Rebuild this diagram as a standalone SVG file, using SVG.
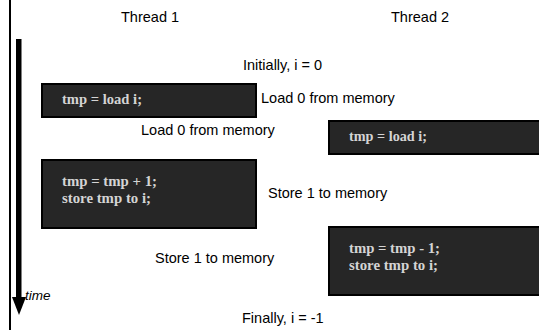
<svg xmlns="http://www.w3.org/2000/svg" width="539" height="330" viewBox="0 0 539 330">
<style>
.box{fill:#262626;stroke:#000;stroke-width:2}
.code{font-family:"Liberation Serif","Times New Roman",serif;font-weight:bold;font-size:14px;fill:#d4d4d4}
.lbl{font-family:"Liberation Sans",Arial,sans-serif;font-size:14.5px;fill:#000}
</style>
<rect width="539" height="330" fill="#fff"/>
<g id="connectors">
<line x1="10" y1="0" x2="10" y2="330" stroke="#000" stroke-width="2"/>
<rect x="16" y="39" width="5.5" height="260" fill="#000"/>
<polygon points="12,297 26,297 19,315" fill="#000"/>
<text x="25" y="300" style="font-family:'Liberation Sans',Arial,sans-serif;font-size:13.5px;font-style:italic">time</text>
</g>
<g id="labels">
<text class="lbl" x="121" y="22">Thread 1</text>
<text class="lbl" x="391" y="22">Thread 2</text>
<text class="lbl" x="243" y="70">Initially, i = 0</text>
<text class="lbl" x="261" y="103">Load 0 from memory</text>
<text class="lbl" x="141" y="135">Load 0 from memory</text>
<text class="lbl" x="268" y="198">Store 1 to memory</text>
<text class="lbl" x="155" y="263">Store 1 to memory</text>
<text class="lbl" x="242" y="323">Finally, i = -1</text>
</g>
<g id="t1-load">
<rect class="box" x="42" y="84" width="214" height="33"/>
<text class="code" x="62" y="104" textLength="80" lengthAdjust="spacingAndGlyphs">tmp = load i;</text>
</g>
<g id="t2-load">
<rect class="box" x="329" y="121" width="214" height="33"/>
<text class="code" x="349" y="141" textLength="78" lengthAdjust="spacingAndGlyphs">tmp = load i;</text>
</g>
<g id="t1-store">
<rect class="box" x="42" y="160" width="214" height="68"/>
<text class="code" x="62" y="186" textLength="95" lengthAdjust="spacingAndGlyphs">tmp = tmp + 1;</text>
<text class="code" x="62" y="203" textLength="89" lengthAdjust="spacingAndGlyphs">store tmp to i;</text>
</g>
<g id="t2-store">
<rect class="box" x="329" y="227" width="214" height="68"/>
<text class="code" x="349" y="253" textLength="91" lengthAdjust="spacingAndGlyphs">tmp = tmp - 1;</text>
<text class="code" x="349" y="270" textLength="89" lengthAdjust="spacingAndGlyphs">store tmp to i;</text>
</g>
</svg>
